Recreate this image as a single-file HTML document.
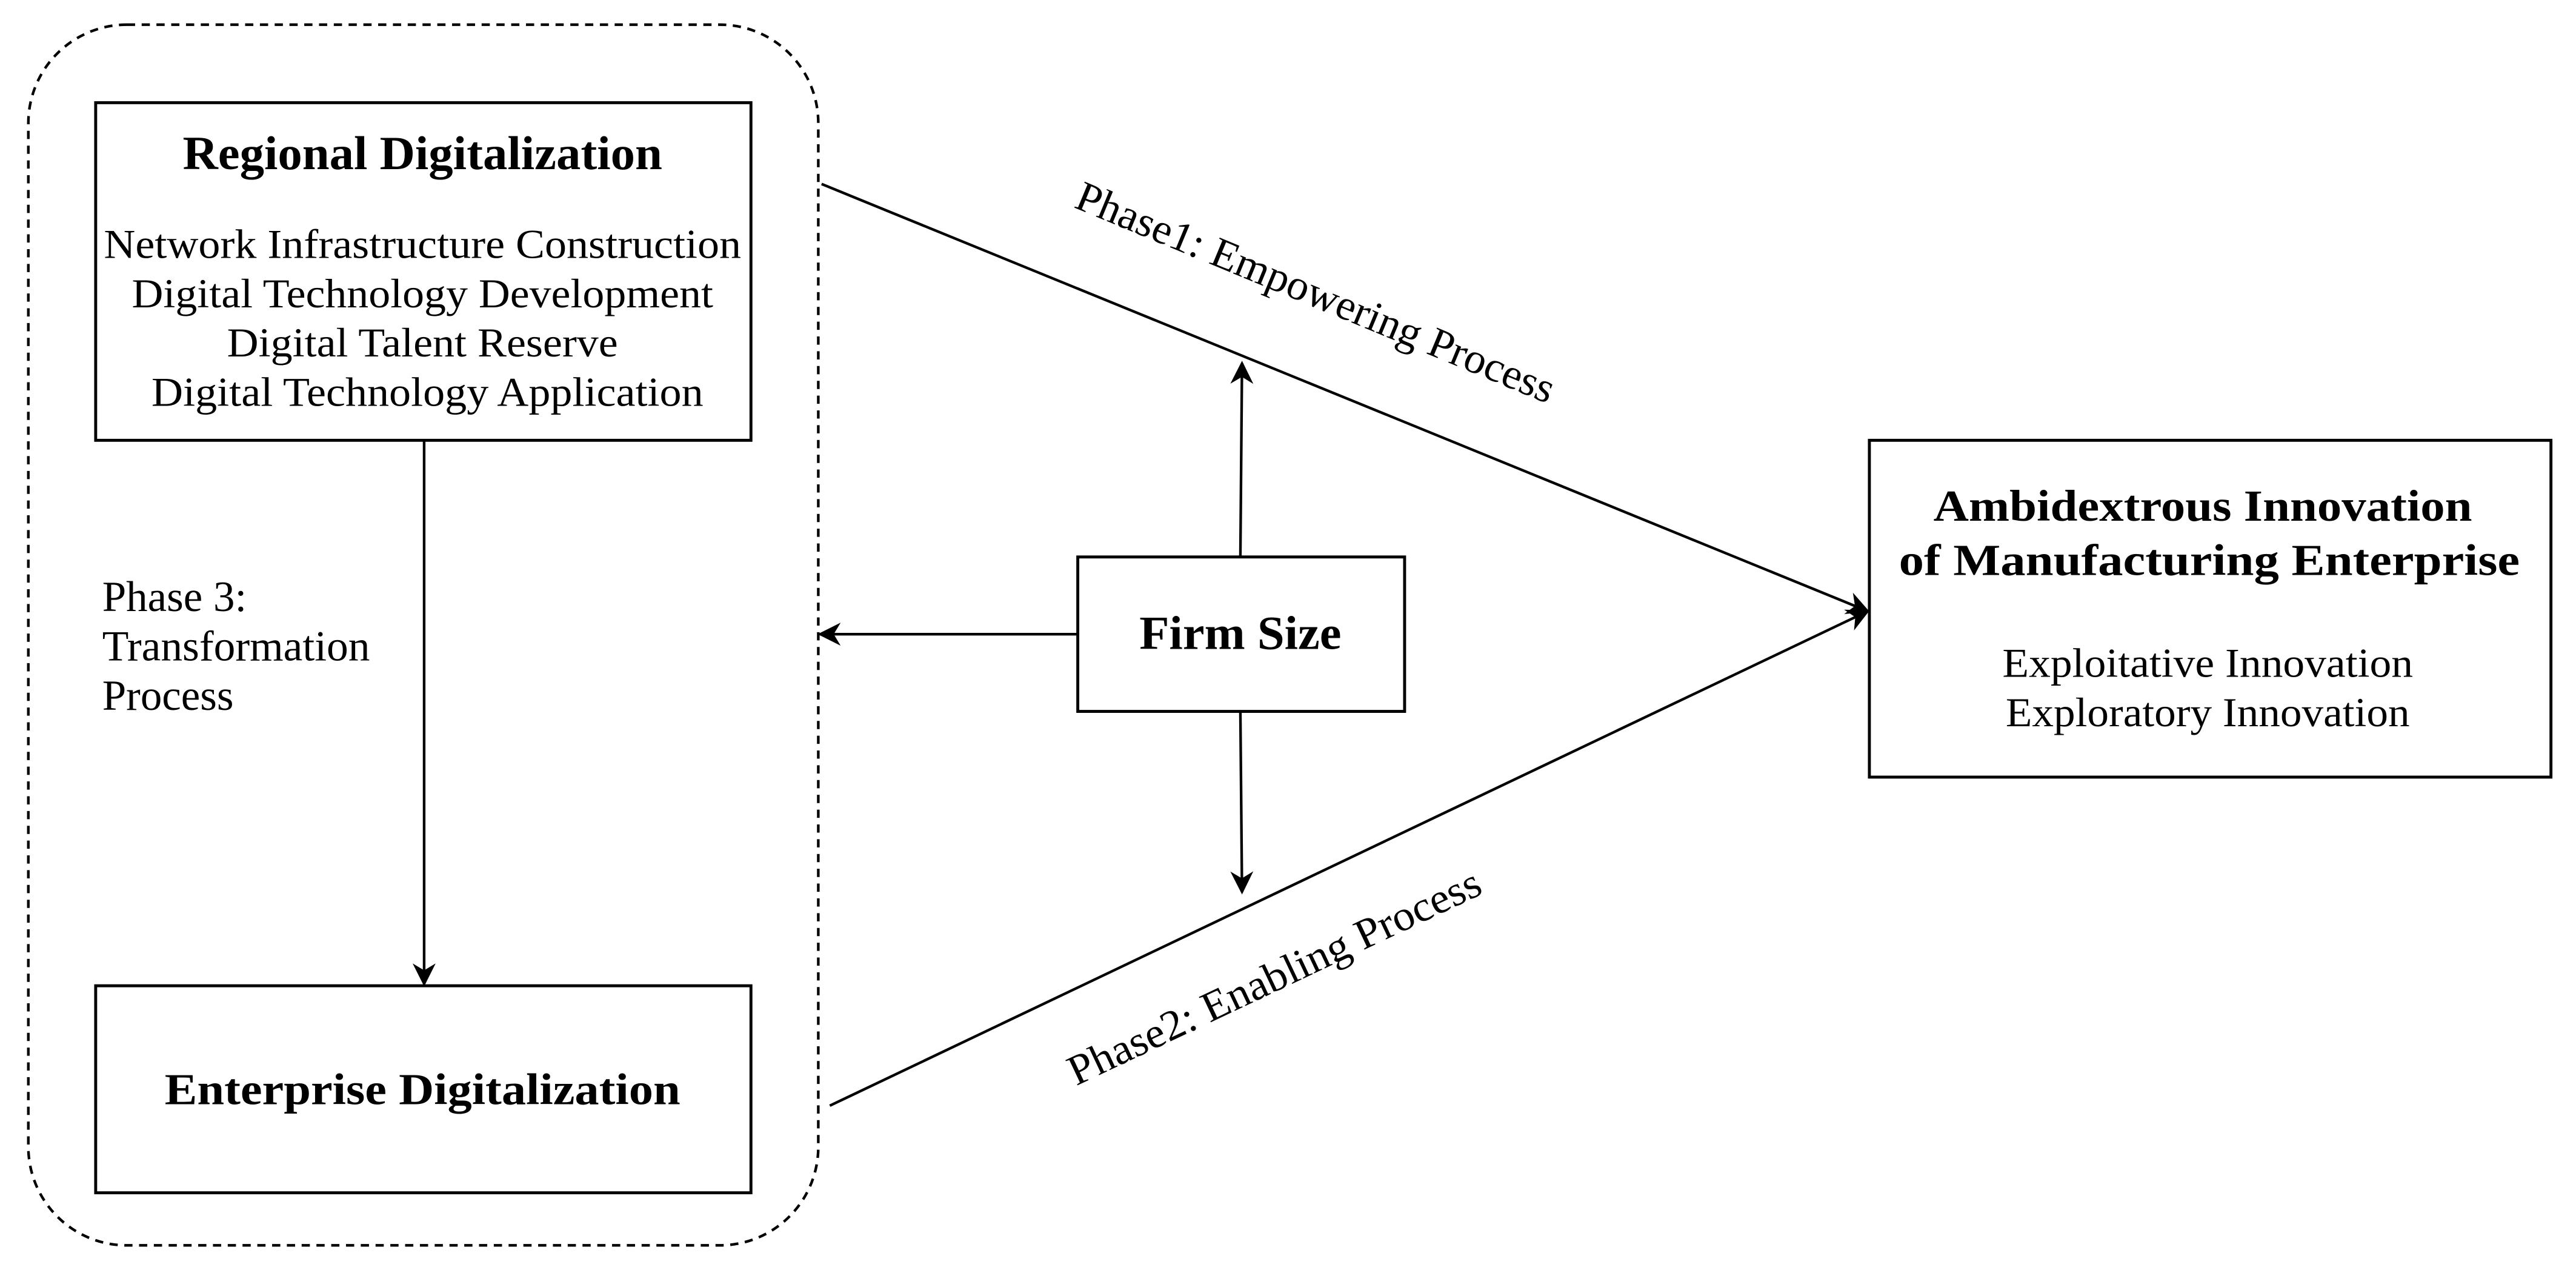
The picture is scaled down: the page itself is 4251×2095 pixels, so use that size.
<!DOCTYPE html>
<html><head><meta charset="utf-8"><style>html,body{margin:0;padding:0;background:#fff}svg{display:block}</style></head>
<body>
<svg width="4251" height="2095" viewBox="0 0 1568 773" xmlns="http://www.w3.org/2000/svg" font-family="'Liberation Serif', serif">
<defs>
<marker id="b" viewBox="0 0 10 10" refX="9" refY="5" markerWidth="14" markerHeight="14" orient="auto" markerUnits="userSpaceOnUse"><path d="M0,0 L10,5 L0,10 L3,5 Z" fill="#000"/></marker>
</defs>
<rect x="17" y="15" width="481" height="743" rx="60" ry="60" fill="none" stroke="#000" stroke-width="1.6" stroke-dasharray="5,4"/>
<rect x="58" y="62.5" width="399" height="205.5" fill="none" stroke="#000" stroke-width="1.8"/>
<rect x="58" y="600" width="399" height="126" fill="none" stroke="#000" stroke-width="1.8"/>
<rect x="656" y="339" width="199" height="94" fill="none" stroke="#000" stroke-width="1.8"/>
<rect x="1138" y="268" width="415" height="205" fill="none" stroke="#000" stroke-width="1.8"/>
<g stroke="#000" stroke-width="1.6" fill="none">
<line x1="258" y1="268" x2="258" y2="599" marker-end="url(#b)"/>
<line x1="755" y1="339" x2="756" y2="221" marker-end="url(#b)"/>
<line x1="755" y1="433" x2="756" y2="543" marker-end="url(#b)"/>
<line x1="656" y1="386" x2="499" y2="386" marker-end="url(#b)"/>
<line x1="500" y1="112" x2="1137" y2="372" marker-end="url(#b)"/>
<line x1="505" y1="673" x2="1137" y2="372" marker-end="url(#b)"/>
</g>
<g fill="#000" text-anchor="middle">
<text x="257" y="103" font-size="29" font-weight="bold" textLength="292" lengthAdjust="spacingAndGlyphs">Regional Digitalization</text>
<text x="257" y="157" font-size="25" textLength="388" lengthAdjust="spacingAndGlyphs">Network Infrastructure Construction</text>
<text x="257" y="187" font-size="25" textLength="354" lengthAdjust="spacingAndGlyphs">Digital Technology Development</text>
<text x="257" y="217" font-size="25" textLength="238" lengthAdjust="spacingAndGlyphs">Digital Talent Reserve</text>
<text x="260" y="247" font-size="25" textLength="336" lengthAdjust="spacingAndGlyphs">Digital Technology Application</text>
<text x="257" y="672" font-size="27" font-weight="bold" textLength="314" lengthAdjust="spacingAndGlyphs">Enterprise Digitalization</text>
<text x="755" y="395" font-size="29" font-weight="bold" textLength="123" lengthAdjust="spacingAndGlyphs">Firm Size</text>
<text x="1341" y="317" font-size="27" font-weight="bold" textLength="328" lengthAdjust="spacingAndGlyphs">Ambidextrous Innovation</text>
<text x="1345" y="350" font-size="27" font-weight="bold" textLength="378" lengthAdjust="spacingAndGlyphs">of  Manufacturing Enterprise</text>
<text x="1344" y="412" font-size="25" textLength="250" lengthAdjust="spacingAndGlyphs">Exploitative Innovation</text>
<text x="1344" y="442" font-size="25" textLength="246" lengthAdjust="spacingAndGlyphs">Exploratory Innovation</text>
</g>
<g fill="#000" font-size="26">
<text x="62" y="372" textLength="88" lengthAdjust="spacingAndGlyphs">Phase 3:</text>
<text x="62" y="402" textLength="163" lengthAdjust="spacingAndGlyphs">Transformation</text>
<text x="62" y="432" textLength="80" lengthAdjust="spacingAndGlyphs">Process</text>
<text transform="translate(653,126) rotate(22.5)" textLength="313" lengthAdjust="spacingAndGlyphs">Phase1: Empowering Process</text>
<text transform="translate(655,661) rotate(-25.3)" textLength="275" lengthAdjust="spacingAndGlyphs">Phase2: Enabling Process</text>
</g>
</svg>
</body></html>
